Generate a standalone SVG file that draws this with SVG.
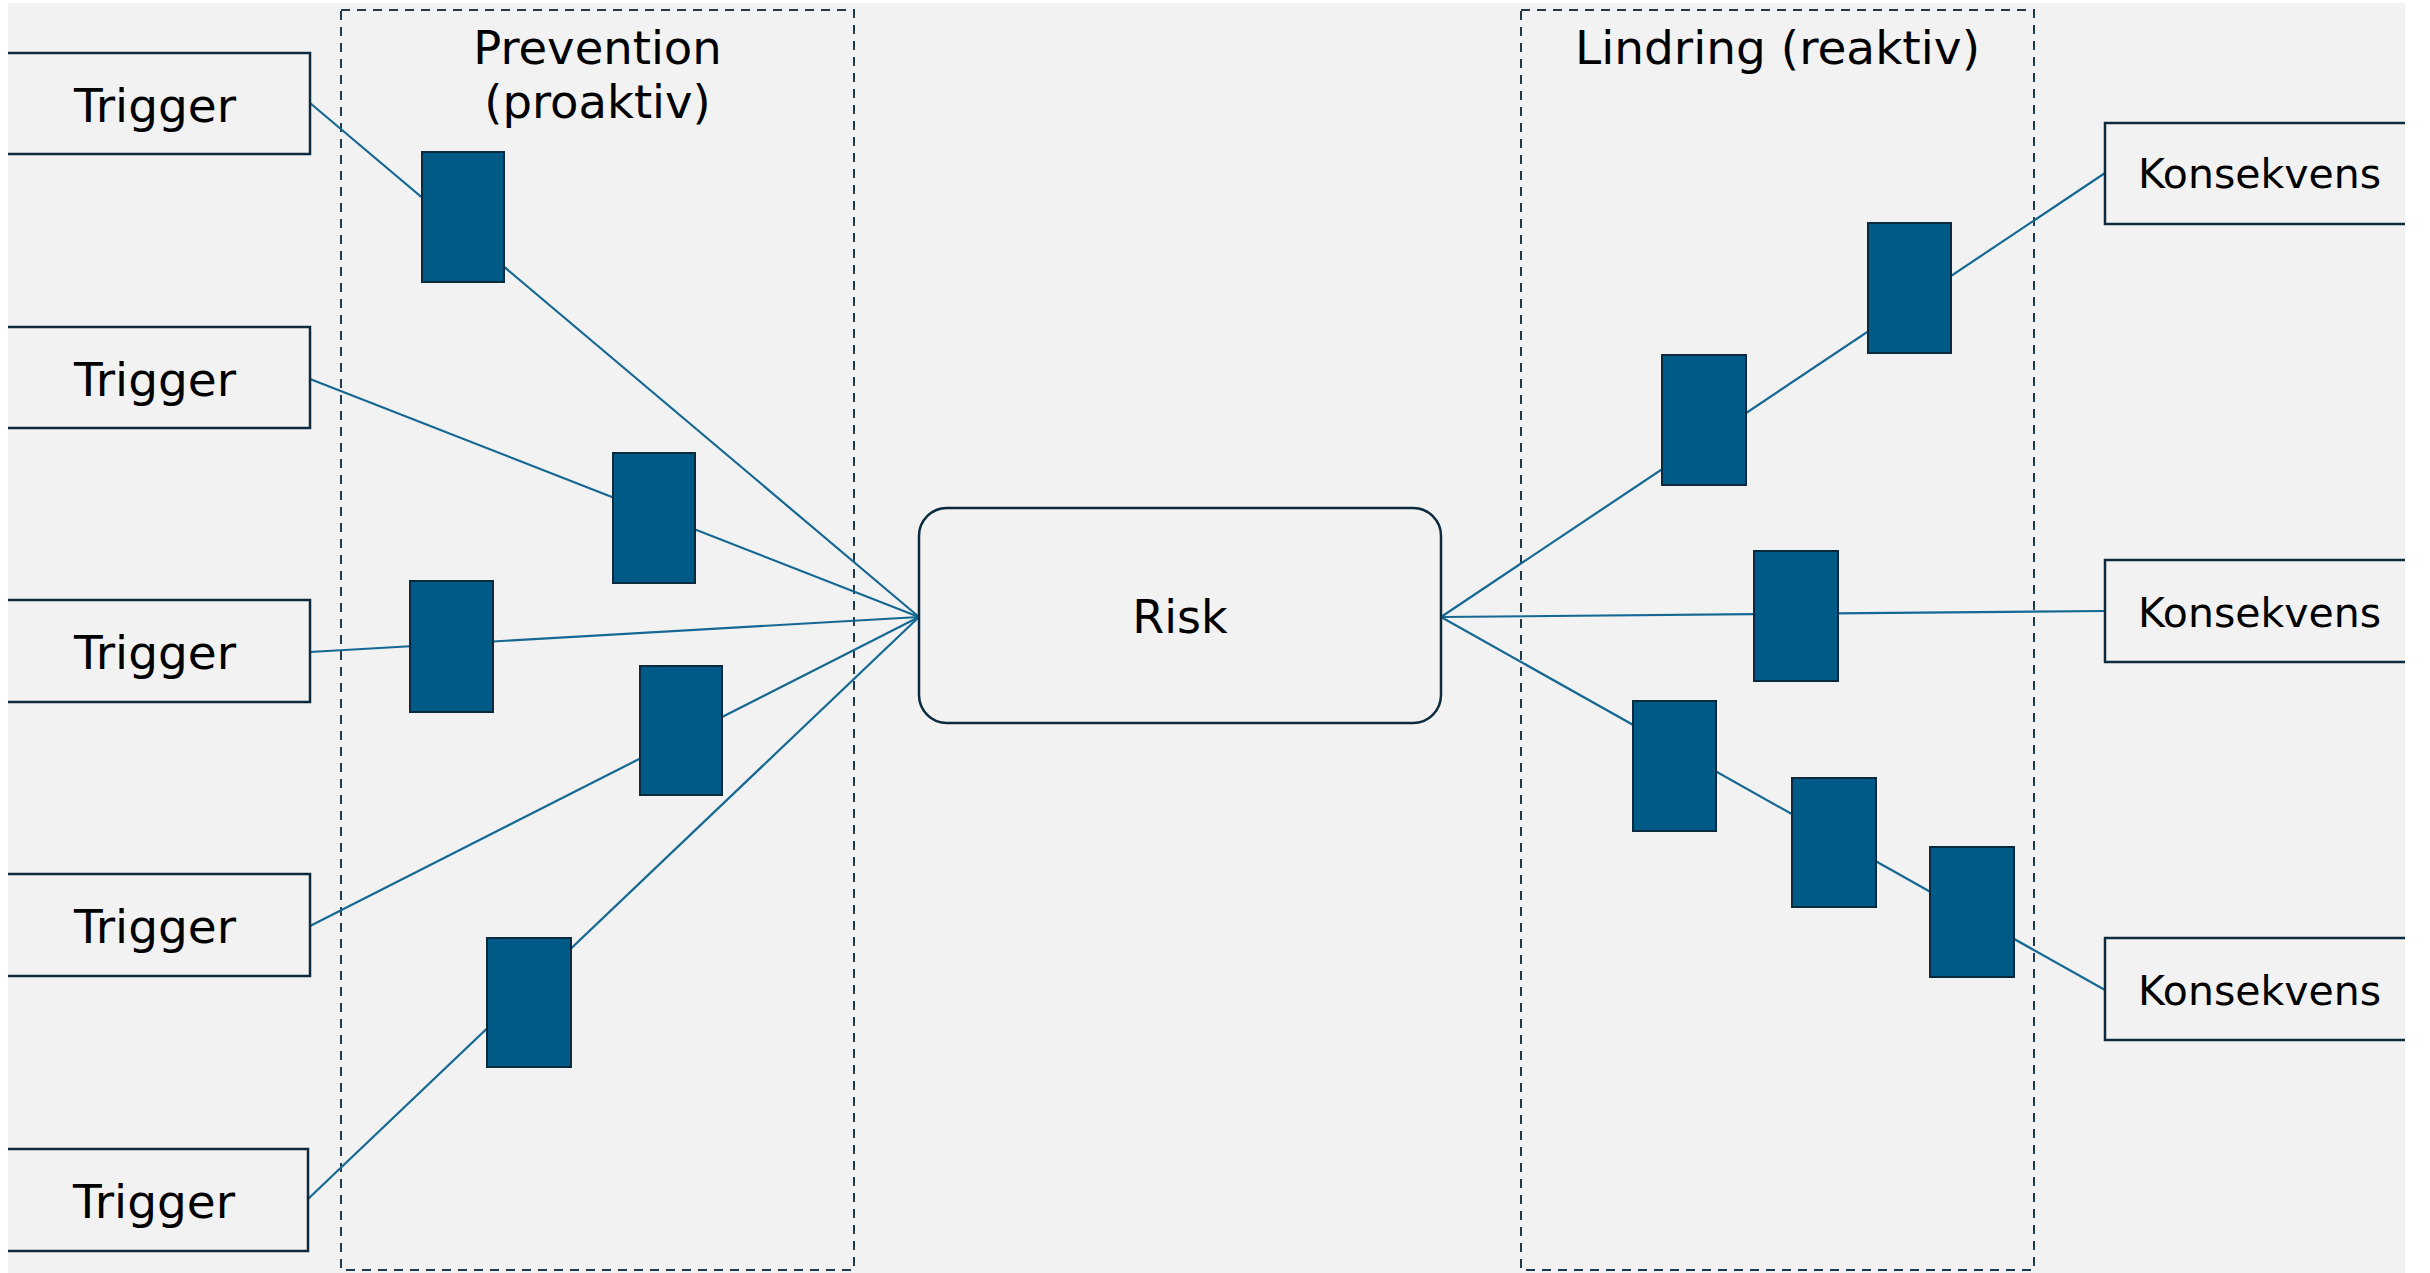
<svg xmlns="http://www.w3.org/2000/svg" width="2430" height="1273" viewBox="0 0 2430 1273">
<defs>
<style>
.bg{fill:#f2f2f2}
.box{fill:#f2f2f2;stroke:#0d2b3e;stroke-width:2.5}
.grp{fill:none;stroke:#1f3a4f;stroke-width:2;stroke-dasharray:9 7}
.ctl{fill:#005a87;stroke:#0c2a3d;stroke-width:2}
.ln{fill:none;stroke:#156892;stroke-width:2.2}
.t{font-family:"DejaVu Sans","Verdana",sans-serif;fill:#000}
.t45{font-size:47px;text-anchor:middle}
.t46{font-size:46.5px;text-anchor:middle}
.t47{font-size:47px;text-anchor:middle}
.tr{font-size:46px;text-anchor:middle}
.t40{font-size:41px;text-anchor:start}
</style>
<clipPath id="area"><rect x="8" y="3" width="2397" height="1270"/></clipPath>
</defs>
<rect width="2430" height="1273" fill="#ffffff"/>
<rect class="bg" x="8" y="3" width="2397" height="1270"/>
<g clip-path="url(#area)">
<g id="prevention-group">
<rect class="grp" x="341" y="10" width="513" height="1260"/>
<text class="t t46" x="597.5" y="64">Prevention</text>
<text class="t t46" x="597.5" y="118">(proaktiv)</text>
</g>
<g id="lindring-group">
<rect class="grp" x="1521" y="10" width="513" height="1260"/>
<text class="t t47" x="1777.5" y="64">Lindring (reaktiv)</text>
</g>
<g id="connectors">
<line class="ln" x1="310" y1="103" x2="919" y2="617"/>
<line class="ln" x1="310" y1="379" x2="919" y2="617"/>
<line class="ln" x1="310" y1="652" x2="919" y2="617"/>
<line class="ln" x1="310" y1="926" x2="919" y2="617"/>
<line class="ln" x1="308" y1="1199" x2="919" y2="617"/>
<line class="ln" x1="1441" y1="617" x2="2105" y2="173"/>
<line class="ln" x1="1441" y1="617" x2="2105" y2="611"/>
<line class="ln" x1="1441" y1="617" x2="2105" y2="990"/>
</g>
<g id="trigger-1"><rect class="box" x="-10" y="53" width="320" height="101"/><text class="t t45" x="155" y="122">Trigger</text></g>
<g id="trigger-2"><rect class="box" x="-10" y="327" width="320" height="101"/><text class="t t45" x="155" y="396">Trigger</text></g>
<g id="trigger-3"><rect class="box" x="-10" y="600" width="320" height="102"/><text class="t t45" x="155" y="669">Trigger</text></g>
<g id="trigger-4"><rect class="box" x="-10" y="874" width="320" height="102"/><text class="t t45" x="155" y="943">Trigger</text></g>
<g id="trigger-5"><rect class="box" x="-10" y="1149" width="318" height="102"/><text class="t t45" x="154" y="1218">Trigger</text></g>
<g id="risk"><rect class="box" x="919" y="508" width="522" height="215" rx="28" ry="28"/><text class="t tr" x="1180" y="633">Risk</text></g>
<g id="konsekvens-1"><rect class="box" x="2105" y="123" width="340" height="101"/><text class="t t40" x="2138" y="188">Konsekvens</text></g>
<g id="konsekvens-2"><rect class="box" x="2105" y="560" width="340" height="102"/><text class="t t40" x="2138" y="627">Konsekvens</text></g>
<g id="konsekvens-3"><rect class="box" x="2105" y="938" width="340" height="102"/><text class="t t40" x="2138" y="1005">Konsekvens</text></g>
<g id="barrier-p1"><rect class="ctl" x="422" y="152" width="82" height="130"/></g>
<g id="barrier-p2"><rect class="ctl" x="613" y="453" width="82" height="130"/></g>
<g id="barrier-p3"><rect class="ctl" x="410" y="581" width="83" height="131"/></g>
<g id="barrier-p4"><rect class="ctl" x="640" y="666" width="82" height="129"/></g>
<g id="barrier-p5"><rect class="ctl" x="487" y="938" width="84" height="129"/></g>
<g id="barrier-r1"><rect class="ctl" x="1868" y="223" width="83" height="130"/></g>
<g id="barrier-r2"><rect class="ctl" x="1662" y="355" width="84" height="130"/></g>
<g id="barrier-r3"><rect class="ctl" x="1754" y="551" width="84" height="130"/></g>
<g id="barrier-r4"><rect class="ctl" x="1633" y="701" width="83" height="130"/></g>
<g id="barrier-r5"><rect class="ctl" x="1792" y="778" width="84" height="129"/></g>
<g id="barrier-r6"><rect class="ctl" x="1930" y="847" width="84" height="130"/></g>
</g>
</svg>
